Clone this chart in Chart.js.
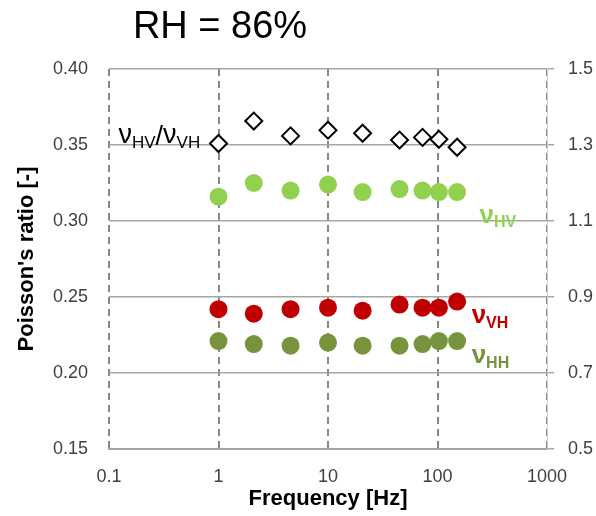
<!DOCTYPE html>
<html>
<head>
<meta charset="utf-8">
<script src="https://cdn.jsdelivr.net/npm/chart.js@4.4.1/dist/chart.umd.min.js"></script>
<style>
    html, body { margin: 0; padding: 0; background: #fff; }
</style>
</head>
<body>
<canvas id="poissonChart" width="596" height="516"></canvas>
<script>
// Frequencies [Hz] and measured Poisson's ratios at RH = 86%
const freq = [1, 2.1, 4.55, 10, 20.7, 45, 73, 103, 151];
const nuHV = [0.316, 0.325, 0.320, 0.324, 0.319, 0.321, 0.320, 0.319, 0.319];
const nuVH = [0.242, 0.239, 0.242, 0.243, 0.241, 0.245, 0.243, 0.243, 0.247];
const nuHH = [0.221, 0.219, 0.218, 0.220, 0.218, 0.218, 0.219, 0.221, 0.221];
const ratio = [1.304, 1.363, 1.324, 1.339, 1.331, 1.313, 1.320, 1.315, 1.294];

const xTicks = [0.1, 1, 10, 100, 1000];
const leftTicks = ['0.15', '0.20', '0.25', '0.30', '0.35', '0.40'];
const rightTicks = ['0.5', '0.7', '0.9', '1.1', '1.3', '1.5'];

const FONT = '"Liberation Sans", Arial, sans-serif';

function pts(ys) {
    return freq.map((f, i) => ({ x: f, y: ys[i] }));
}

// draws "ν" with a subscript, returns the end x
function drawNu(ctx, x, y, sub, color, bold, big, small, measureOnly) {
    const w = bold ? 'bold ' : '';
    ctx.font = w + big + 'px ' + FONT;
    const nuW = ctx.measureText('ν').width;
    ctx.font = w + small + 'px ' + FONT;
    const subW = ctx.measureText(sub).width;
    if (!measureOnly) {
        ctx.fillStyle = color;
        ctx.textAlign = 'left';
        ctx.textBaseline = 'alphabetic';
        ctx.font = w + big + 'px ' + FONT;
        ctx.fillText('ν', x, y);
        ctx.font = w + small + 'px ' + FONT;
        ctx.fillText(sub, x + nuW, y + small * 0.3);
    }
    return x + nuW + subW;
}

const labelPlugin = {
    id: 'labels',
    afterDraw(chart) {
        const ctx = chart.ctx;
        const xs = chart.scales.x, yl = chart.scales.y, yr = chart.scales.y1;
        ctx.save();
        // title
        ctx.fillStyle = '#000';
        ctx.font = '38px ' + FONT;
        ctx.textAlign = 'center';
        ctx.textBaseline = 'alphabetic';
        ctx.fillText('RH = 86%', 220, 38);

        // ratio label (right aligned before first diamond)
        const endX = xs.getPixelForValue(0.68);
        const by = yr.getPixelForValue(1.305);
        let w = drawNu(ctx, 0, 0, 'HV', '#000', false, 27, 17, true);
        ctx.font = '27px ' + FONT;
        const slashW = ctx.measureText('/').width;
        w += slashW + drawNu(ctx, 0, 0, 'VH', '#000', false, 27, 17, true);
        let cx = endX - w;
        cx = drawNu(ctx, cx, by, 'HV', '#000', false, 27, 17);
        ctx.font = '27px ' + FONT;
        ctx.fillStyle = '#000';
        ctx.fillText('/', cx, by + 2);
        cx += slashW;
        drawNu(ctx, cx, by, 'VH', '#000', false, 27, 17);

        drawNu(ctx, xs.getPixelForValue(242), yl.getPixelForValue(0.299), 'HV', '#92D050', true, 26, 16);
        drawNu(ctx, xs.getPixelForValue(205), yl.getPixelForValue(0.233), 'VH', '#C00000', true, 26, 16);
        drawNu(ctx, xs.getPixelForValue(205), yl.getPixelForValue(0.2066), 'HH', '#77933C', true, 26, 16);
        ctx.restore();
    }
};

const ctx = document.getElementById('poissonChart').getContext('2d');

new Chart(ctx, {
    type: 'scatter',
    data: {
        datasets: [
            {
                label: 'νHV/νVH',
                data: pts(ratio),
                yAxisID: 'y1',
                pointStyle: 'rectRot',
                pointRadius: 8.5,
                backgroundColor: '#ffffff',
                borderColor: '#000000',
                borderWidth: 2
            },
            {
                label: 'νHV',
                data: pts(nuHV),
                yAxisID: 'y',
                pointRadius: 9,
                backgroundColor: '#92D050',
                borderWidth: 0
            },
            {
                label: 'νVH',
                data: pts(nuVH),
                yAxisID: 'y',
                pointRadius: 9,
                backgroundColor: '#C00000',
                borderWidth: 0
            },
            {
                label: 'νHH',
                data: pts(nuHH),
                yAxisID: 'y',
                pointRadius: 9,
                backgroundColor: '#77933C',
                borderWidth: 0
            }
        ]
    },
    options: {
        responsive: false,
        animation: false,
        layout: { padding: { top: 69, left: 0, right: 0, bottom: 0 } },
        plugins: {
            legend: { display: false },
            tooltip: { enabled: false }
        },
        scales: {
            x: {
                type: 'logarithmic',
                min: 0.1,
                max: 1000,
                afterBuildTicks: (scale) => {
                    scale.ticks = xTicks.map(v => ({ value: v }));
                },
                afterFit: (scale) => { scale.height = 67; },
                ticks: {
                    autoSkip: false,
                    maxRotation: 0,
                    padding: 17,
                    color: '#404040',
                    font: { family: FONT, size: 18 },
                    callback: (v) => String(v)
                },
                grid: {
                    color: '#888888',
                    lineWidth: 2,
                    drawTicks: false
                },
                border: { display: true, color: '#a6a6a6', width: 2, dash: [7, 5] },
                title: {
                    display: true,
                    text: 'Frequency [Hz]',
                    color: '#000',
                    padding: { top: 0 },
                    font: { family: FONT, size: 22, weight: 'bold' }
                }
            },
            y: {
                position: 'left',
                min: 0.15,
                max: 0.40,
                afterBuildTicks: (scale) => {
                    scale.ticks = leftTicks.map(v => ({ value: parseFloat(v) }));
                },
                afterFit: (scale) => { scale.width = 109; },
                ticks: {
                    padding: 21,
                    color: '#404040',
                    font: { family: FONT, size: 18 },
                    callback: (v, i) => leftTicks[i]
                },
                grid: {
                    color: '#a6a6a6',
                    lineWidth: 1.5,
                    drawTicks: false
                },
                border: { display: false },
                title: {
                    display: true,
                    text: "Poisson's ratio [-]",
                    color: '#000',
                    padding: { top: 14 },
                    font: { family: FONT, size: 22, weight: 'bold' }
                }
            },
            y1: {
                position: 'right',
                min: 0.5,
                max: 1.5,
                afterBuildTicks: (scale) => {
                    scale.ticks = rightTicks.map(v => ({ value: parseFloat(v) }));
                },
                afterFit: (scale) => { scale.width = 49; },
                ticks: {
                    padding: 14,
                    color: '#404040',
                    font: { family: FONT, size: 18 },
                    callback: (v, i) => rightTicks[i]
                },
                grid: {
                    drawOnChartArea: false,
                    color: '#a6a6a6',
                    lineWidth: 1.5,
                    tickLength: 7
                },
                border: { display: true, color: '#cccccc', width: 1 }
            }
        }
    },
    plugins: [labelPlugin]
});
</script>
</body>
</html>
